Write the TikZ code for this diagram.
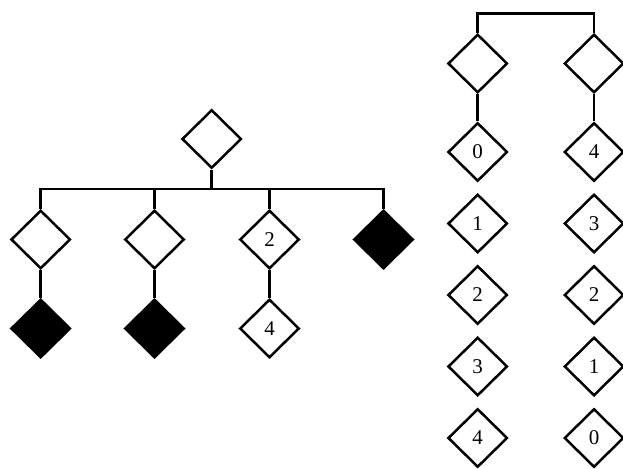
\documentclass[tikz,border=0pt]{standalone}
\usepackage{fontspec}
\setmainfont{Liberation Serif}
\usetikzlibrary{
  positioning,
  shapes.geometric,
}
\definecolor{border}{HTML}{000000}
\tikzset{
  cell/.style={
    diamond, draw=border, fill=white, line width=2.5pt,
    minimum width=59.5pt, minimum height=58.5pt, inner sep=0pt,
    font=\fontsize{21}{24}\selectfont,
  },
  fullcell/.style={
    cell, fill=border,
  },
  link/.style={draw=border, line width=2.5pt},
}

\begin{document}
\begin{tikzpicture}[x=1pt, y=-1pt]

  \useasboundingbox (0,0) rectangle (623,468);

  % Left tree
  \node[cell] (root) at (211.7, 139) {};
  \coordinate (bar) at (211.7, 189);

  \node[cell] (c1) at (40.7, 239.5) {};
  \node[cell] (c2) at (154.5, 239.5) {};
  \node[cell] (c3) at (269.5, 239.5) {2};
  \node[fullcell] (c4) at (383.5, 239.5) {};

  \node[fullcell] (g1) at (40.7, 328.5) {};
  \node[fullcell] (g2) at (154.5, 328.5) {};
  \node[cell] (g3) at (269.5, 328.5) {4};

  \draw[link] (root.south) -- (bar);
  \draw[link] (c1.north) |- (bar) -| (c4.north);
  \draw[link] (c2.north) -- (c2 |- bar);
  \draw[link] (c3.north) -- (c3 |- bar);
  \draw[link] (c1) -- (g1);
  \draw[link] (c2) -- (g2);
  \draw[link] (c3) -- (g3);

  % Right columns
  \coordinate (top) at (536, 13.3);
  \node[cell] (a0) at (477.7, 63.5) {};
  \node[cell] (b0) at (594, 63.5) {};

  \node[cell] (a1) at (477.7, 152) {0};
  \node[cell] (a2) at (477.7, 223.5) {1};
  \node[cell] (a3) at (477.7, 295) {2};
  \node[cell] (a4) at (477.7, 366.5) {3};
  \node[cell] (a5) at (477.7, 438) {4};

  \node[cell] (b1) at (594, 152) {4};
  \node[cell] (b2) at (594, 223.5) {3};
  \node[cell] (b3) at (594, 295) {2};
  \node[cell] (b4) at (594, 366.5) {1};
  \node[cell] (b5) at (594, 438) {0};

  \draw[link] (a0.north) |- (top) -| (b0.north);
  \draw[link] (a0) -- (a1);
  \draw[link] (b0) -- (b1);

\end{tikzpicture}
\end{document}
